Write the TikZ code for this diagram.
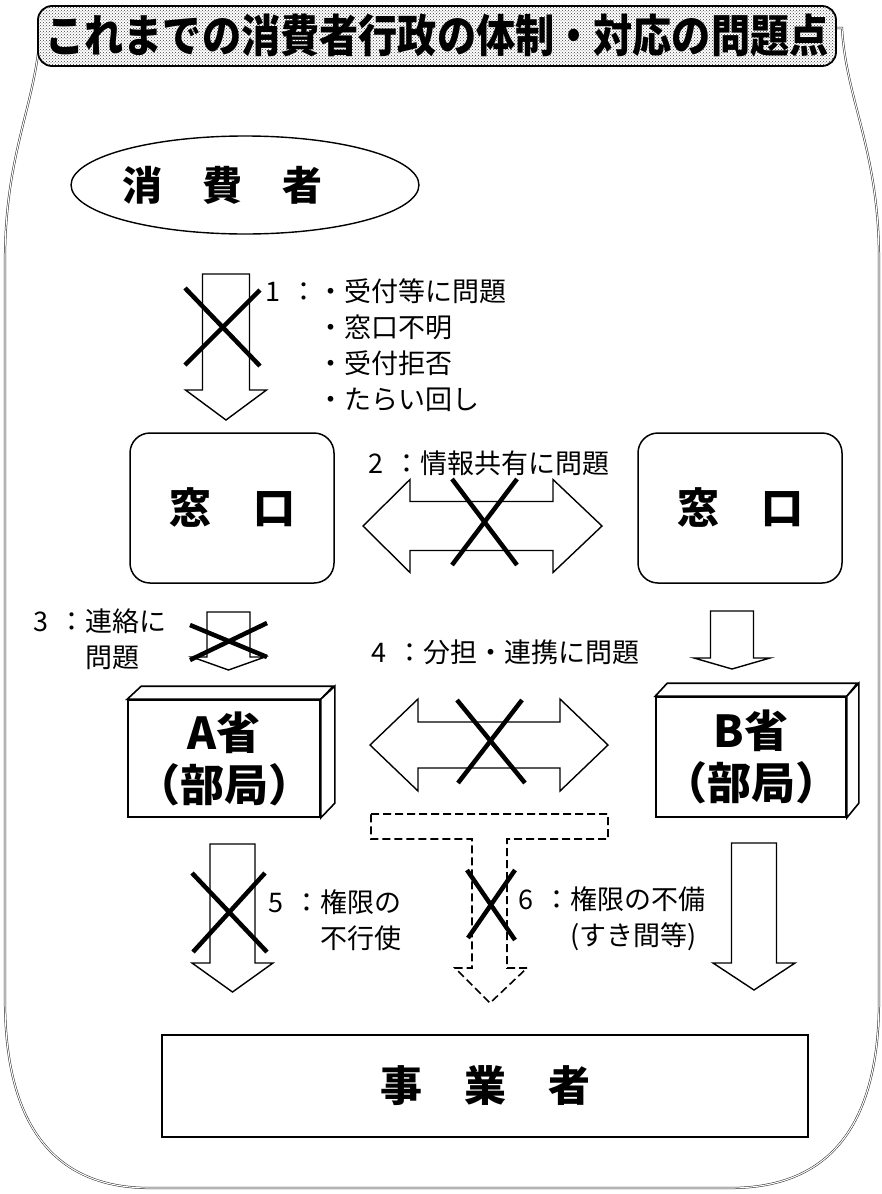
\documentclass[tikz,border=0pt]{standalone}
\usepackage{fontspec}
\setmainfont{Noto Sans CJK JP}
\usetikzlibrary{patterns,shapes.geometric}

% down block arrow: [opts]{cx}{ytop}{ybase}{ytip}{shaft half}{head half}
\newcommand{\darr}[7][]{%
  \draw[blockarrow,#1] ({#2-#6},#3) -- ({#2+#6},#3) -- ({#2+#6},#4) -- ({#2+#7},#4) -- (#2,#5) -- ({#2-#7},#4) -- ({#2-#6},#4) -- cycle;}
% horizontal double block arrow: [opts]{cy}{xl}{xlb}{xrb}{xr}{shaft half}{head half}
\newcommand{\harr}[8][]{%
  \draw[blockarrow,#1] (#3,#2) -- (#4,{#2-#8}) -- (#4,{#2-#7}) -- (#5,{#2-#7}) -- (#5,{#2-#8}) -- (#6,#2) -- (#5,{#2+#8}) -- (#5,{#2+#7}) -- (#4,{#2+#7}) -- (#4,{#2+#8}) -- cycle;}

\tikzset{
  frameline/.style={draw=black!85, line width=0.5pt, double=white, double distance=1.1pt},
  titlebox/.style={draw=black, line width=1.8pt, rounded corners=14pt, preaction={fill=white},
    pattern=crosshatch dots, pattern color=black!75, inner sep=0pt},
  blockarrow/.style={draw=black, line width=1.4pt, fill=white, line join=miter},
  xmark/.style={draw=black, line width=4.5pt},
  lbl/.style={font=\fontsize{27}{36}\selectfont, anchor=west, inner sep=0pt, align=left},
  bigbold/.style={font=\bfseries\fontsize{42}{50}\selectfont, align=center, inner sep=0pt},
  madobox/.style={draw=black, line width=1.5pt, rounded corners=20pt, minimum width=204pt, minimum height=150pt, bigbold},
  frontbox/.style={draw=black, line width=1.6pt, fill=white, bigbold, font=\bfseries\fontsize{44}{52}\selectfont},
  sidebox/.style={draw=black, line width=1.6pt, fill=white, line join=miter},
}

\begin{document}
\begin{tikzpicture}[x=1pt,y=-1pt]
\useasboundingbox (0,0) rectangle (882,1194);

% outer frame
\draw[frameline] (40,28) -- (842,28)
  .. controls (846,100) and (879,150) .. (879,260) -- (879,1000)
  .. controls (879,1120) and (834,1188) .. (730,1188) -- (150,1188)
  .. controls (50,1188) and (5,1120) .. (5,1000) -- (5,260)
  .. controls (5,150) and (38,100) .. (40,28) -- cycle;

% consumer ellipse
\node[draw=black, line width=1.4pt, ellipse, minimum width=290pt, minimum height=98pt, bigbold,
  font=\bfseries\fontsize{40}{48}\selectfont] (cons) at (245,185) {消　費　者\hspace{46pt}};

% arrow 1
\darr{226}{274}{390}{420}{23.5}{40.5}
\draw[xmark] (185,288) -- (260,366);
\draw[xmark] (260,290) -- (185,365);
\node[lbl] (l1) at (265,345) {1\hspace{10pt}：・受付等に問題\\
  \phantom{1\hspace{10pt}：}・窓口不明\\
  \phantom{1\hspace{10pt}：}・受付拒否\\
  \phantom{1\hspace{10pt}：}・たらい回し};

% windows
\node[madobox] (madoL) at (232,508) {窓　口};
\node[madobox] (madoR) at (740,508) {窓　口};

% arrow 2
\harr{526}{363}{410}{553}{602}{24.5}{46.5}
\draw[xmark] (452,479) -- (517,565);
\draw[xmark] (517,479) -- (452,565);
\node[lbl] (l2) at (368,463) {2\hspace{10pt}：情報共有に問題};

% arrow 3
\darr{228.5}{612}{657}{670}{21.5}{36.5}
\draw[xmark] (190,625) -- (267,657);
\draw[xmark] (267,623) -- (190,660);
\node[lbl] (l3) at (33,639) {3\hspace{10pt}：連絡に\\ \phantom{3\hspace{10pt}：}問題};

% arrow right (no cross)
\darr{732}{611}{658}{669}{21.5}{38}

% label 4
\node[lbl] (l4) at (371,652) {4\hspace{10pt}：分担・連携に問題};

% ministry A
\node[frontbox, minimum width=192pt, minimum height=117pt] (minA) at (224,758.5) {A省\\（部局）};
\draw[sidebox] (minA.north west) -- ++(14,-13) -- ++(192,0) -- (minA.north east) -- cycle;
\draw[sidebox] (minA.north east) -- ++(14,-13) -- ++(0,117) -- (minA.south east) -- cycle;

% ministry B
\node[frontbox, minimum width=190pt, minimum height=120pt] (minB) at (751,757) {B省\\（部局）};
\draw[sidebox] (minB.north west) -- ++(12,-13) -- ++(190,0) -- (minB.north east) -- cycle;
\draw[sidebox] (minB.north east) -- ++(12,-13) -- ++(0,120) -- (minB.south east) -- cycle;

% arrow 4
\harr{745}{370}{418}{560}{608}{23}{46}
\draw[xmark] (457,700) -- (525,783);
\draw[xmark] (522,700) -- (458,783);

% dashed T arrow
\draw[blockarrow, line width=1.6pt, dash pattern=on 8pt off 4pt] (371,814) -- (608,814) -- (608,839) -- (507,839) -- (507,968) -- (527,968)
  -- (490,1003) -- (455,968) -- (472,968) -- (472,839) -- (371,839) -- cycle;
\draw[xmark] (467,870) -- (515,940);
\draw[xmark] (515,870) -- (468,938);

% arrow 5
\darr{232.5}{844}{963}{992}{22.5}{40.5}
\draw[xmark] (192,873) -- (267,952);
\draw[xmark] (265,873) -- (193,952);
\node[lbl] (l5) at (268,920) {5\hspace{10pt}：権限の\\ \phantom{5\hspace{10pt}：}不行使};

% label 6
\node[lbl] (l6) at (518,919) {6\hspace{10pt}：権限の不備\\ \phantom{6\hspace{10pt}：}(すき間等)};

% arrow B down
\darr{754}{843}{963}{990}{22.5}{41}

% business
\node[draw=black, line width=1.6pt, minimum width=646pt, minimum height=102pt, bigbold] (biz) at (485,1086) {事　業　者};

% title (drawn last)
\node[titlebox, minimum width=798pt, minimum height=60pt] (title) at (437,36)
  {\bfseries\fontsize{45}{45}\selectfont\scalebox{0.87}[1]{これまでの消費者行政の体制・対応の問題点}};

\end{tikzpicture}
\end{document}
